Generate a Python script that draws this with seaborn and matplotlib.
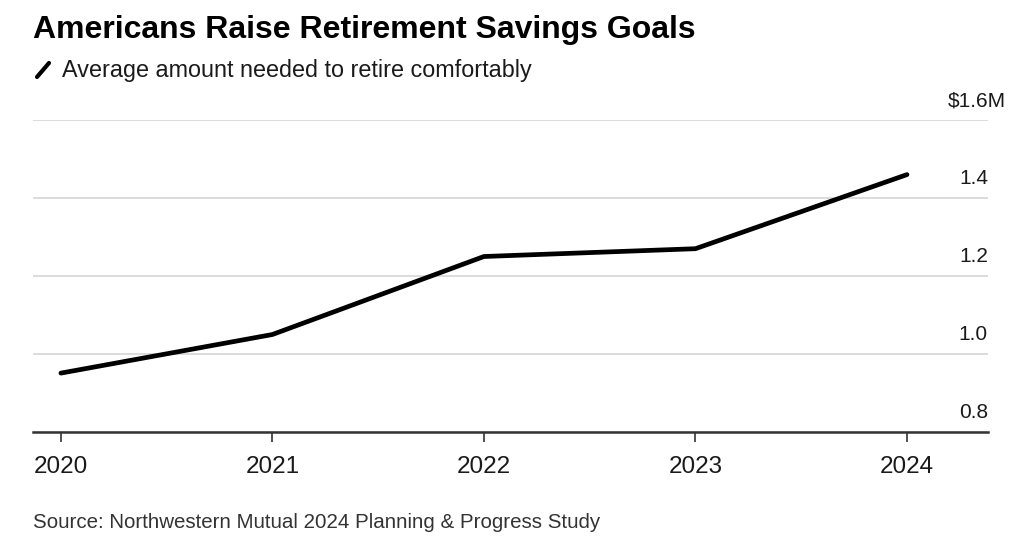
import matplotlib
matplotlib.use("Agg")
import matplotlib.pyplot as plt
import matplotlib.transforms as mtransforms
from matplotlib.lines import Line2D
import seaborn as sns
import pandas as pd

# data (millions of dollars)
years = [2020, 2021, 2022, 2023, 2024]
amount_musd = [0.951, 1.05, 1.25, 1.27, 1.46]
y_ticks = [0.8, 1.0, 1.2, 1.4, 1.6]
y_tick_labels = ["0.8", "1.0", "1.2", "1.4", "1.6"]
x_tick_labels = ["2020", "2021", "2022", "2023", "2024"]

title = "Americans Raise Retirement Savings Goals"
subtitle = "Average amount needed to retire comfortably"
source = "Source: Northwestern Mutual 2024 Planning & Progress Study"

sns.set_theme(style="white")
plt.rcParams["font.family"] = ["Liberation Sans", "DejaVu Sans"]

df = pd.DataFrame({"year": years, "amount": amount_musd})

W, H = 1024, 553
fig = plt.figure(figsize=(W / 100, H / 100), dpi=100)
fig.patch.set_facecolor("white")
ax = fig.add_axes([33 / W, 1 - 432 / H, (988 - 33) / W, (432 - 120) / H])

sns.lineplot(data=df, x="year", y="amount", color="black", linewidth=3.4, ax=ax,
             solid_capstyle="round")

ax.set_xlim(2019.868, 2024.383)
ax.set_ylim(0.8, 1.6)

# grid and axes
ax.set_yticks(y_ticks)
ax.yaxis.grid(True, color="#d9d9d9", linewidth=1.3)
ax.xaxis.grid(False)
ax.tick_params(axis="y", length=0, labelleft=False, labelright=False)
ax.set_xticks(years)
ax.set_xticklabels(x_tick_labels)
ax.tick_params(axis="x", bottom=True, length=7, width=1.2, color="#333333",
               labelsize=17.5, labelcolor="#1a1a1a", pad=10)
for s in ["top", "left", "right"]:
    ax.spines[s].set_visible(False)
ax.spines["bottom"].set_color("#333333")
ax.spines["bottom"].set_linewidth(1.8)
ax.spines["bottom"].set_zorder(5)
ax.set_xlabel("")
ax.set_ylabel("")

# y labels sit above the gridlines, on the right
trans = mtransforms.blended_transform_factory(ax.transAxes, ax.transData)
lab_trans = mtransforms.offset_copy(trans, fig=fig, x=0, y=10, units="points")
ylabels = []
for v, lab in zip(y_ticks, y_tick_labels):
    t = ax.text(1.0, v, lab, transform=lab_trans, ha="right", va="baseline",
                fontsize=15, color="#1a1a1a", clip_on=False)
    ylabels.append(t)

# top label gets the unit: "$" in front, "M" after, numbers stay aligned
fig.canvas.draw()
top = ylabels[-1]
bb = top.get_window_extent()
dollar = fig.text(bb.x0 / W, bb.y0 / H, "$", ha="right", va="bottom",
                  fontsize=15)
fig.canvas.draw()
x0 = dollar.get_window_extent().x0
dollar.remove()
top.set_visible(False)
fig.text(x0 / W, bb.y0 / H, "$" + y_tick_labels[-1] + "M", ha="left",
         va="bottom", fontsize=15, color="#1a1a1a")

# header
fig.text(33 / W, 1 - 15 / H, title, ha="left", va="top", fontsize=23,
         fontweight="bold", color="black")
fig.add_artist(Line2D([37 / W, 49 / W], [1 - 77 / H, 1 - 63 / H],
                      transform=fig.transFigure, color="black", lw=3,
                      solid_capstyle="round"))
fig.text(62 / W, 1 - 70 / H, subtitle, ha="left", va="center", fontsize=16.8,
         color="#1a1a1a")

# footer
fig.text(33 / W, 1 - 522 / H, source, ha="left", va="center", fontsize=14.8,
         color="#333333")

fig.savefig("out.png", dpi=100, facecolor="white")
